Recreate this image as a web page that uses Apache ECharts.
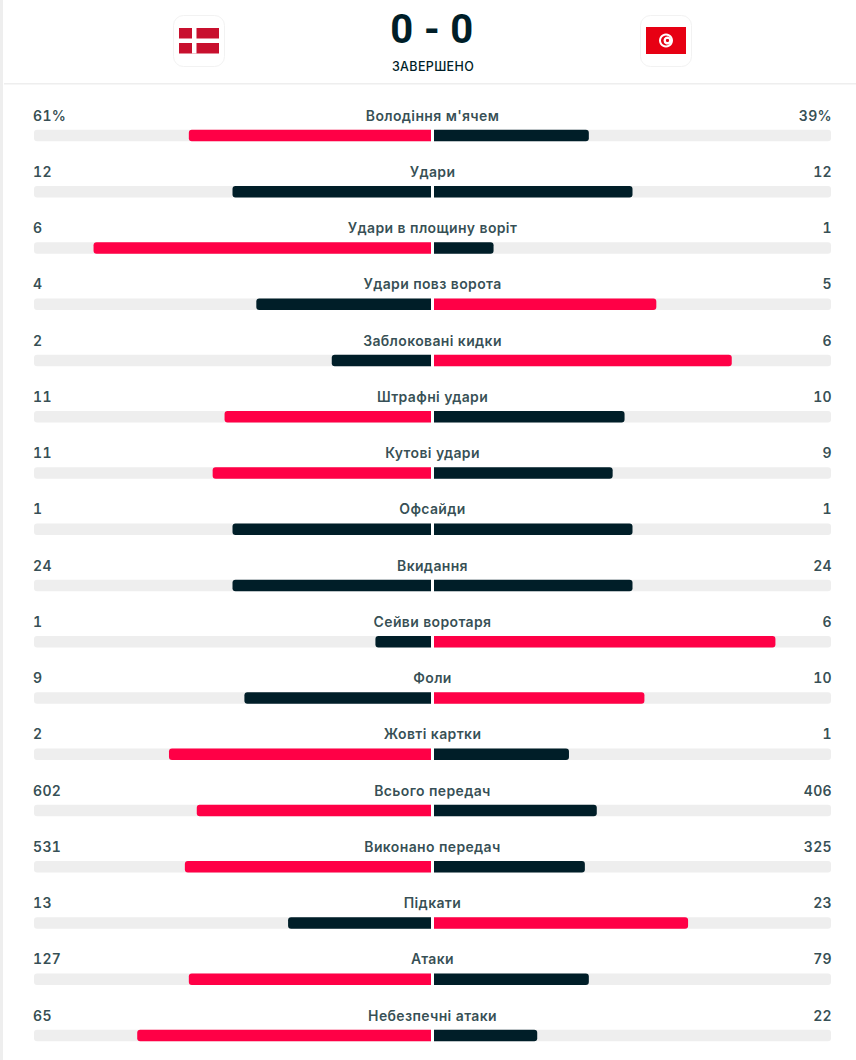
<!DOCTYPE html>
<html><head><meta charset="utf-8">
<style>html,body{margin:0;padding:0;background:#fff}#c{width:856px;height:1060px}
#c text{letter-spacing:.35px;font-variant-numeric:tabular-nums}</style>
<script src="https://cdn.jsdelivr.net/npm/echarts@6/dist/echarts.min.js"></script>
</head><body><div id="c"></div>
<script>
const statNames = ["Володіння м'ячем","Удари","Удари в площину воріт","Удари повз ворота","Заблоковані кидки","Штрафні удари","Кутові удари","Офсайди","Вкидання","Сейви воротаря","Фоли","Жовті картки","Всього передач","Виконано передач","Підкати","Атаки","Небезпечні атаки"];
const homeLabels = ["61%","12","6","4","2","11","11","1","24","1","9","2","602","531","13","127","65"];
const awayLabels = ["39%","12","1","5","6","10","9","1","24","6","10","1","406","325","23","79","22"];
const homeShare = [61,50,85,44,25,52,55,50,50,14,47,66,59,62,36,61,74];
const awayShare = [39,50,15,56,75,48,45,50,50,86,53,34,41,38,64,39,26];
const RED = '#ff0046', DARK = '#001e28', TRACK = '#eeeeee', TEXT = '#001e28';
const FONT = 'Inter';

const chart = echarts.init(document.getElementById('c'), null, {renderer:'svg'});
const TOP = 135.6, H = 900;
const catAxis = (i)=>({type:'category',gridIndex:i,data:statNames,inverse:true,show:false,boundaryGap:false});
const valAxis = (i,inv)=>({type:'value',gridIndex:i,min:0,max:100,inverse:inv,show:false});
const colorOf = (mine,other)=> mine>other ? RED : DARK;
const barSeries = (i,vals,others,radius)=>({
  type:'bar',xAxisIndex:i,yAxisIndex:i,data:vals.map((v,k)=>({value:v,itemStyle:{color:colorOf(v,others[k])}})),
  barWidth:11.5,silent:true,animation:false,clip:false,
  showBackground:true,backgroundStyle:{color:TRACK,borderRadius:radius},
  itemStyle:{borderRadius:radius}
});
const textSeries = (x,labels,pos,align)=>({
  type:'scatter',xAxisIndex:2,yAxisIndex:2,symbolSize:0,silent:true,animation:false,clip:false,
  data:labels.map((t,k)=>({value:[x,statNames[k]],name:t})),
  label:{show:true,position:pos,align:align,verticalAlign:'middle',offset:[0,-20.5],
    formatter:p=>p.name,fontFamily:FONT,fontSize:14,fontWeight:600,color:TEXT}
});
chart.setOption({
  animation:false,
  backgroundColor:'#fff',
  grid:[
    {left:34,top:TOP,width:397,height:H},
    {left:434,top:TOP,width:397,height:H},
    {left:33,top:TOP,width:799,height:H}
  ],
  xAxis:[valAxis(0,true),valAxis(1,false),valAxis(2,false)],
  yAxis:[catAxis(0),catAxis(1),catAxis(2)],
  series:[
    barSeries(0,homeShare,awayShare,[3,0,0,3]),
    barSeries(1,awayShare,homeShare,[0,3,3,0]),
    textSeries(0,homeLabels,'inside','left'),
    textSeries(50,statNames,'inside','center'),
    textSeries(100,awayLabels,'inside','right')
  ],
  graphic:[
    {type:'rect',shape:{x:0,y:0,width:3,height:1060},style:{fill:'#eeeeee'},silent:true},
    {type:'rect',shape:{x:4,y:83,width:852,height:1.5},style:{fill:'#eeeeee'},silent:true},
    {type:'rect',shape:{x:173.5,y:15.5,width:51,height:51,r:10},style:{fill:'#fff',stroke:'#f2f2f2',lineWidth:1}},
    {type:'rect',shape:{x:179,y:28,width:40,height:25.5},style:{fill:'#c8102e'}},
    {type:'rect',shape:{x:192,y:28,width:4.5,height:25.5},style:{fill:'#fff'}},
    {type:'rect',shape:{x:179,y:38.5,width:40,height:4.5},style:{fill:'#fff'}},
    {type:'rect',shape:{x:640.5,y:15.5,width:51,height:51,r:10},style:{fill:'#fff',stroke:'#f2f2f2',lineWidth:1}},
    {type:'rect',shape:{x:646,y:27,width:40,height:27},style:{fill:'#e70013'}},
    {type:'circle',shape:{cx:666,cy:40.5,r:7},style:{fill:'#fff'}},
    {type:'circle',shape:{cx:666,cy:40.5,r:5},style:{fill:'#e70013'}},
    {type:'circle',shape:{cx:667.5,cy:40.5,r:4},style:{fill:'#fff'}},
    {type:'circle',shape:{cx:667.5,cy:40.5,r:1.6},style:{fill:'#e70013'}},
    {type:'text',style:{x:432,y:29.5,text:'0 - 0',align:'center',verticalAlign:'middle',fontFamily:'Roboto',fontSize:40,fontWeight:'bold',fill:DARK}},
    {type:'text',style:{x:433,y:66,text:'ЗАВЕРШЕНО',align:'center',verticalAlign:'middle',fontFamily:FONT,fontSize:12.5,fontWeight:500,fill:TEXT}}
  ]
});
</script></body></html>
